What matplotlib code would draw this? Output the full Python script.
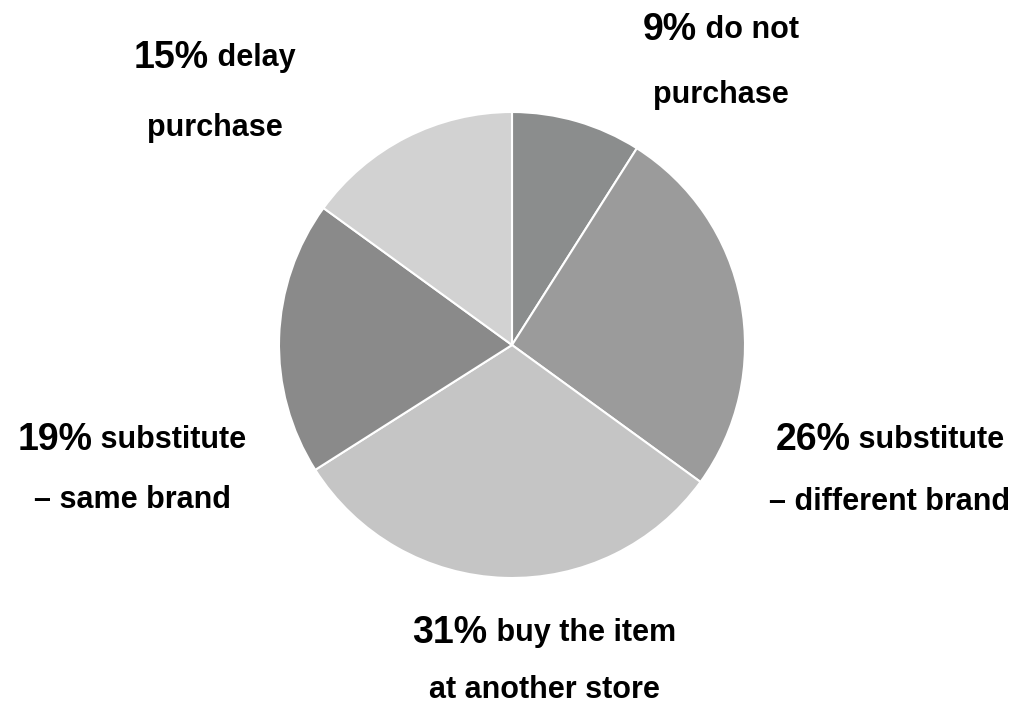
import matplotlib
matplotlib.use("Agg")
import matplotlib.pyplot as plt

# slices clockwise from 12 o'clock
shares = [9, 26, 31, 19, 15]
head = ["do not", "substitute", "buy the item", "substitute", "delay"]
tail = ["purchase", "\u2013 different brand", "at another store", "\u2013 same brand", "purchase"]
colors = ["#8b8d8d", "#9b9b9b", "#c5c5c5", "#8a8a8a", "#d2d2d2"]

W, H = 1023, 711
fig = plt.figure(figsize=(W / 100, H / 100), dpi=100)
ax = fig.add_axes([0, 0, 1, 1])

ax.pie(shares, colors=colors, startangle=90, counterclock=False,
       center=(512, H - 345), radius=233, frame=True,
       wedgeprops=dict(edgecolor="white", linewidth=1.5))
ax.set_xlim(0, W)
ax.set_ylim(0, H)
ax.axis("off")

FONT = "Liberation Sans"
# label line centres in pixels (x, y of first line, y of second line)
spots = [(721, 30, 95), (890, 440, 502), (544, 633, 690), (132, 440, 500), (215, 58, 128)]

renderer = fig.canvas.get_renderer()
for share, h, t, (cx, y1, y2) in zip(shares, head, tail, spots):
    p = ax.text(0, H - y1, f"{share}%", fontsize=27, fontweight="bold",
                family=FONT, va="center", ha="left")
    q = ax.text(0, H - y1, " " + h, fontsize=22, fontweight="bold",
                family=FONT, va="center", ha="left")
    wp = p.get_window_extent(renderer).width
    wq = q.get_window_extent(renderer).width
    x0 = cx - (wp + wq) / 2
    p.set_x(x0)
    q.set_x(x0 + wp)
    ax.text(cx, H - y2, t, fontsize=22, fontweight="bold", family=FONT,
            va="center", ha="center")

fig.savefig("out.png", dpi=100)
